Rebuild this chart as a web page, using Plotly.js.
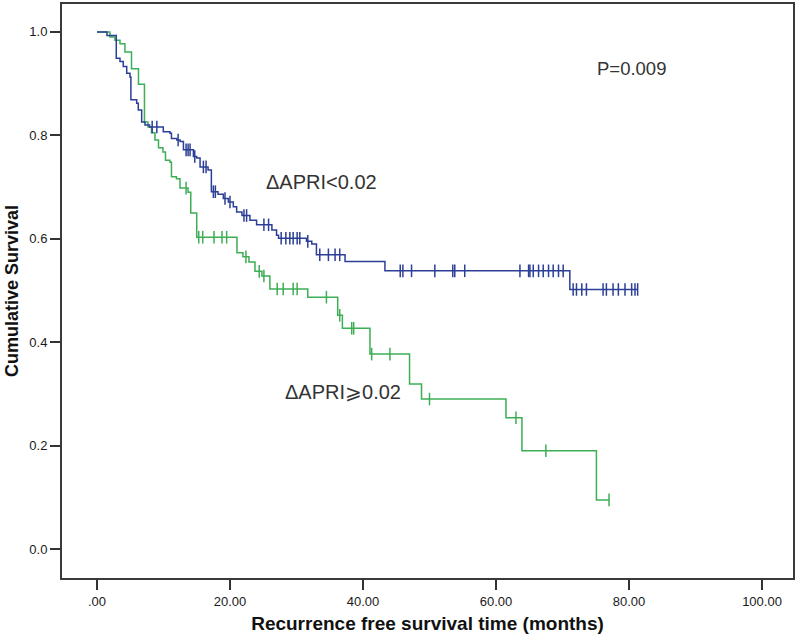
<!DOCTYPE html>
<html>
<head>
<meta charset="utf-8">
<script src="https://cdn.plot.ly/plotly-3.0.1.min.js"></script>
<style>html,body{margin:0;padding:0;background:#fff;}#chart{width:800px;height:638px;}</style>
</head>
<body>
<div id="chart"></div>
<script>
// ΔAPRI < 0.02 (blue) — event times and survival after each step
const lowTimes = [0, 1.5, 2.9, 3.46, 3.95, 4.47, 4.96, 5.1, 5.97, 6.21, 6.72, 7.22, 7.9, 9.97, 10.98, 11.2, 12.0, 12.5, 13.0, 14.5, 15.0, 15.5, 16.7, 17.2, 18.2, 19.0, 19.75, 20.5, 21.0, 21.8, 23.0, 24.0, 26.3, 27.0, 27.3, 31.5, 32.3, 33.0, 37.3, 43.3, 71.1];
const lowSurv = [1.0, 0.993, 0.949, 0.943, 0.933, 0.920, 0.913, 0.869, 0.862, 0.849, 0.826, 0.820, 0.816, 0.807, 0.804, 0.794, 0.791, 0.788, 0.772, 0.759, 0.756, 0.739, 0.733, 0.691, 0.686, 0.678, 0.671, 0.662, 0.652, 0.645, 0.636, 0.627, 0.617, 0.607, 0.601, 0.595, 0.590, 0.569, 0.556, 0.538, 0.502];
const lowCensored = [8.3, 9.0, 12.2, 13.4, 13.7, 14.0, 14.7, 16.0, 16.4, 17.5, 17.8, 19.25, 20.0, 22.1, 22.5, 25.1, 25.8, 27.7, 28.4, 29.0, 29.5, 30.1, 30.5, 31.7, 33.5, 34.8, 35.8, 36.5, 45.6, 46.0, 47.3, 50.8, 53.5, 53.8, 55.3, 63.6, 64.9, 65.1, 65.6, 66.4, 67.1, 67.9, 68.6, 69.4, 70.1, 71.6, 72.1, 72.9, 73.6, 76.1, 76.6, 77.6, 78.4, 79.4, 80.4, 80.9, 81.3];

// ΔAPRI ≥ 0.02 (green)
const highTimes = [0, 1.95, 2.7, 3.46, 4.2, 5.19, 6.24, 7.14, 7.67, 8.2, 8.72, 9.25, 9.92, 10.3, 10.98, 11.2, 11.95, 12.48, 13.7, 14.1, 15.0, 21.05, 21.95, 22.85, 23.76, 24.8, 26.0, 31.7, 36.2, 36.9, 41.05, 47.0, 48.8, 61.5, 63.9, 75.1];
const highSurv = [1.0, 0.990, 0.984, 0.977, 0.961, 0.929, 0.899, 0.826, 0.816, 0.805, 0.791, 0.776, 0.768, 0.752, 0.748, 0.720, 0.716, 0.698, 0.690, 0.650, 0.603, 0.573, 0.565, 0.555, 0.537, 0.528, 0.503, 0.487, 0.452, 0.427, 0.377, 0.319, 0.290, 0.254, 0.190, 0.095];
const highCensored = [13.4, 15.3, 15.9, 17.6, 18.8, 19.5, 22.4, 24.4, 25.1, 27.1, 28.0, 29.5, 30.1, 34.5, 36.5, 38.3, 38.6, 41.3, 44.05, 50.0, 63.0, 67.5, 77.0];

const xTickVals = [0, 20, 40, 60, 80, 100];
const xTickText = ['.00', '20.00', '40.00', '60.00', '80.00', '100.00'];
const yTickVals = [0, 0.2, 0.4, 0.6, 0.8, 1.0];
const yTickText = ['0.0', '0.2', '0.4', '0.6', '0.8', '1.0'];

const groupLabels = ['ΔAPRI<0.02', 'ΔAPRI⩾0.02'];
const pText = 'P=0.009';

const blue = '#2c3f96';
const green = '#3dae55';

function survAt(times, surv, t) {
  let s = surv[0];
  for (let i = 0; i < times.length; i++) { if (times[i] <= t) s = surv[i]; }
  return s;
}
function stepTrace(times, surv, cens, color) {
  const last = Math.max(times[times.length - 1], cens[cens.length - 1]);
  return {
    x: times.concat([last]), y: surv.concat([surv[surv.length - 1]]),
    mode: 'lines', line: {shape: 'hv', color: color, width: 1.5},
    hoverinfo: 'skip', showlegend: false
  };
}
function censorTrace(times, surv, cens, color) {
  return {
    x: cens, y: cens.map(t => survAt(times, surv, t)),
    mode: 'markers', marker: {symbol: 'line-ns-open', size: 9, color: color, line: {color: color, width: 1.5}},
    hoverinfo: 'skip', showlegend: false
  };
}

const data = [
  stepTrace(highTimes, highSurv, highCensored, green),
  censorTrace(highTimes, highSurv, highCensored, green),
  stepTrace(lowTimes, lowSurv, lowCensored, blue),
  censorTrace(lowTimes, lowSurv, lowCensored, blue)
];

const layout = {
  width: 800, height: 638,
  margin: {l: 62, r: 7, t: 4, b: 60},
  paper_bgcolor: '#fff', plot_bgcolor: '#fff',
  font: {family: 'Liberation Sans, Arial, sans-serif', color: '#222'},
  xaxis: {
    range: [-5.26, 104.66], tickvals: xTickVals, ticktext: xTickText,
    ticks: 'outside', ticklen: 10, tickwidth: 2, tickcolor: '#333',
    showline: true, mirror: true, linecolor: '#3a3a3a', linewidth: 2,
    showgrid: false, zeroline: false,
    tickfont: {size: 13, color: '#1a1a1a'},
    title: {text: '<b>Recurrence free survival time (months)</b>', font: {size: 19, color: '#111'}, standoff: 9}
  },
  yaxis: {
    range: [-0.056, 1.054], tickvals: yTickVals, ticktext: yTickText,
    ticks: 'outside', ticklen: 10, tickwidth: 2, tickcolor: '#333',
    showline: true, mirror: true, linecolor: '#3a3a3a', linewidth: 2,
    showgrid: false, zeroline: false,
    tickfont: {size: 13, color: '#1a1a1a'},
    title: {text: '<b>Cumulative Survival</b>', font: {size: 18, color: '#111'}, standoff: 6}
  },
  annotations: [
    {x: 33.76, y: 0.709, xref: 'x', yref: 'y', text: groupLabels[0], showarrow: false, font: {size: 20, color: '#333'}},
    {x: 37.0, y: 0.303, xref: 'x', yref: 'y', text: groupLabels[1], showarrow: false, font: {size: 20, color: '#333'}},
    {x: 80.4, y: 0.930, xref: 'x', yref: 'y', text: pText, showarrow: false, font: {size: 18.5, color: '#333'}}
  ]
};

Plotly.newPlot('chart', data, layout, {displayModeBar: false, staticPlot: true});
</script>
</body>
</html>
